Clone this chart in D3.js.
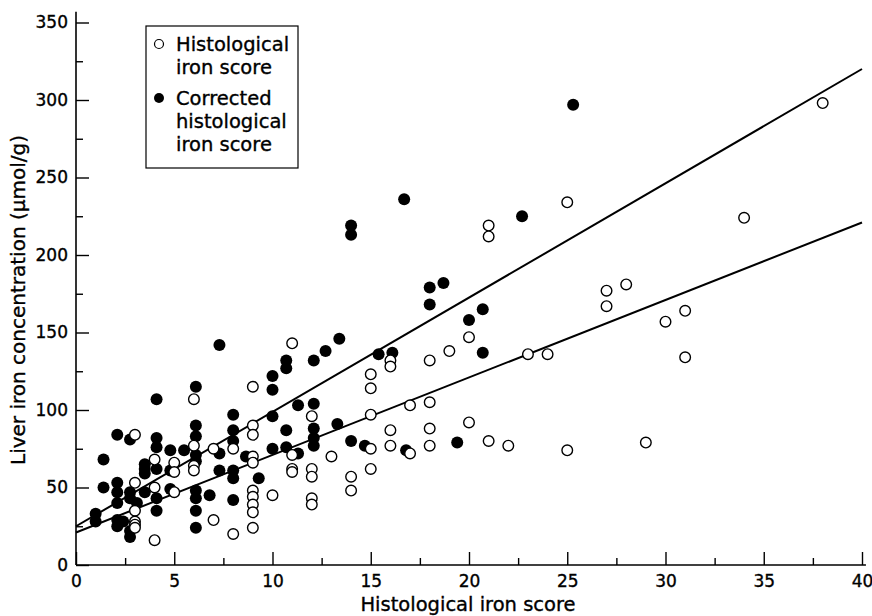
<!DOCTYPE html>
<html>
<head>
<meta charset="utf-8">
<script src="https://cdn.jsdelivr.net/npm/d3@7"></script>
<style>
  body { margin: 0; background: #fff; }
  text { font-family: "DejaVu Sans", Arial, sans-serif; fill: #000; stroke: #000; stroke-width: 0.35px; }
</style>
</head>
<body>
<script>
// histological iron score (open circles)
var histX = [3,3,3,3,3,3, 4,4,4, 5,5,5, 6,6,6,6, 7,7, 8,8,
  9,9,9,9,9,9,9,9,9,9, 10, 11,11,11,11, 12,12,12,12,12, 13, 14,14,
  15,15,15,15,15, 16,16,16,16, 17,17, 18,18,18,18, 19, 20,20, 21,21,21,
  22, 23, 24, 25,25, 27,27, 28, 29, 30, 31,31, 34, 38];
var histY = [84,53,35,28,26,24, 68,50,16, 66,60,47, 107,77,64,61, 75,29, 75,20,
  115,90,84,70,66,48,44,39,34,24, 45, 143,71,62,60, 96,62,57,43,39, 70, 57,48,
  123,114,97,75,62, 132,128,87,77, 103,72, 132,105,88,77, 138, 147,92, 219,212,80,
  77, 136, 136, 234,74, 177,167, 181, 79, 157, 164,134, 224, 298];

// corrected histological iron score (filled circles)
var corrX = [1,1, 1.4,1.4, 2.1,2.1,2.1,2.1,2.1,2.1, 2.4, 2.75,2.75,2.75,2.75,2.75, 3.1,
  3.5,3.5,3.5,3.5, 4.1,4.1,4.1,4.1,4.1,4.1, 4.8,4.8,4.8, 5.5,
  6.1,6.1,6.1,6.1,6.1,6.1,6.1,6.1,6.1, 6.8, 7.3,7.3,7.3, 8,8,8,8,8,8, 8.65, 9.3,
  10,10,10,10, 10.7,10.7,10.7,10.7, 11.3,11.3, 12.1,12.1,12.1,12.1,12.1, 12.7, 13.4, 13.3,
  14,14,14, 14.7, 15.4, 16.1, 16.7, 16.8, 18,18, 18.7, 19.4, 20, 20.7,20.7, 22.7, 25.3];
var corrY = [33,28, 68,50, 84,53,47,40,29,25, 28, 81,47,43,22,18, 40,
  65,62,59,47, 107,82,76,62,43,35, 74,61,49, 74,
  115,90,83,71,67,48,43,35,24, 45, 142,72,61, 97,87,80,61,56,42, 70, 56,
  122,113,96,75, 132,127,87,76, 103,72, 132,104,88,82,77, 138, 146, 91,
  219,213,80, 77, 136, 137, 236, 74, 179,168, 182, 79, 158, 165,137, 225, 297];

// fitted lines, end points
var corrLine = [[0, 25], [40, 320]];
var histLine = [[0, 21], [40, 221]];

var xMajor = [0,5,10,15,20,25,30,35,40];
var xMinor = [2.5,7.5,12.5,17.5,22.5,27.5,32.5,37.5];
var yMajor = [0,50,100,150,200,250,300,350];
var yMinor = [25,75,125,175,225,275,325];

var svg = d3.select("body").append("svg")
    .attr("width", 872)
    .attr("height", 616);

var x = d3.scaleLinear().domain([0, 40]).range([76, 862]);
var y = d3.scaleLinear().domain([0, 350]).range([565, 22.5]);

// axes, ticks pointing inward
svg.append("g")
    .attr("transform", "translate(0," + y(0) + ")")
    .call(d3.axisBottom(x).tickValues(xMajor).tickSize(-13).tickSizeOuter(0).tickPadding(10))
    .call(function(g) { g.select(".domain").remove(); })
    .selectAll("text").style("font-size", "17px").attr("dy", "0.71em");
svg.append("g")
    .attr("transform", "translate(0," + y(0) + ")")
    .call(d3.axisBottom(x).tickValues(xMinor).tickSize(-7).tickFormat(""))
    .call(function(g) { g.select(".domain").remove(); });

svg.append("g")
    .attr("transform", "translate(" + x(0) + ",0)")
    .call(d3.axisLeft(y).tickValues(yMajor).tickSize(-13).tickSizeOuter(0).tickPadding(8))
    .call(function(g) { g.select(".domain").remove(); })
    .selectAll("text").style("font-size", "17px");
svg.append("g")
    .attr("transform", "translate(" + x(0) + ",0)")
    .call(d3.axisLeft(y).tickValues(yMinor).tickSize(-7).tickFormat(""))
    .call(function(g) { g.select(".domain").remove(); });

svg.selectAll(".tick line").attr("stroke", "#000").attr("stroke-width", 1.4);

svg.append("line")
    .attr("x1", x(0)).attr("x2", x(40.2))
    .attr("y1", y(0)).attr("y2", y(0))
    .attr("stroke", "#000").attr("stroke-width", 1.6);
svg.append("line")
    .attr("x1", x(0)).attr("x2", x(0))
    .attr("y1", y(0)).attr("y2", y(357))
    .attr("stroke", "#000").attr("stroke-width", 1.6);

// axis titles
svg.append("text")
    .attr("x", 468).attr("y", 611)
    .attr("text-anchor", "middle")
    .style("font-size", "19.5px")
    .text("Histological iron score");
svg.append("text")
    .attr("transform", "translate(25," + 300 + ") rotate(-90)")
    .attr("text-anchor", "middle")
    .style("font-size", "20px")
    .text("Liver iron concentration (μmol/g)");

// fitted lines
var line = d3.line()
    .x(function(d) { return x(d[0]); })
    .y(function(d) { return y(d[1]); });
[corrLine, histLine].forEach(function(l) {
  svg.append("path")
      .attr("d", line(l))
      .attr("fill", "none")
      .attr("stroke", "#000")
      .attr("stroke-width", 2);
});

// points
svg.append("g").selectAll("circle")
    .data(d3.range(corrX.length))
  .enter().append("circle")
    .attr("cx", function(i) { return x(corrX[i]); })
    .attr("cy", function(i) { return y(corrY[i]); })
    .attr("r", 6)
    .attr("fill", "#000");

svg.append("g").selectAll("circle")
    .data(d3.range(histX.length))
  .enter().append("circle")
    .attr("cx", function(i) { return x(histX[i]); })
    .attr("cy", function(i) { return y(histY[i]); })
    .attr("r", 5.3)
    .attr("fill", "#fff")
    .attr("stroke", "#000")
    .attr("stroke-width", 1.4);

// legend
var leg = svg.append("g");
leg.append("rect")
    .attr("x", 146).attr("y", 26)
    .attr("width", 152).attr("height", 142)
    .attr("fill", "#fff")
    .attr("stroke", "#000")
    .attr("stroke-width", 1.2);
leg.append("circle")
    .attr("cx", 159).attr("cy", 44).attr("r", 4.5)
    .attr("fill", "#fff").attr("stroke", "#000").attr("stroke-width", 1.2);
leg.append("circle")
    .attr("cx", 159).attr("cy", 98).attr("r", 5)
    .attr("fill", "#000");
var legLines = ["Histological", "iron score", "Corrected", "histological", "iron score"];
var legY = [51, 74, 105, 128, 151];
leg.selectAll(".lt")
    .data(legLines)
  .enter().append("text")
    .attr("class", "lt")
    .attr("x", 176)
    .attr("y", function(d, i) { return legY[i]; })
    .style("font-size", "19.5px")
    .text(function(d) { return d; });
</script>
</body>
</html>
